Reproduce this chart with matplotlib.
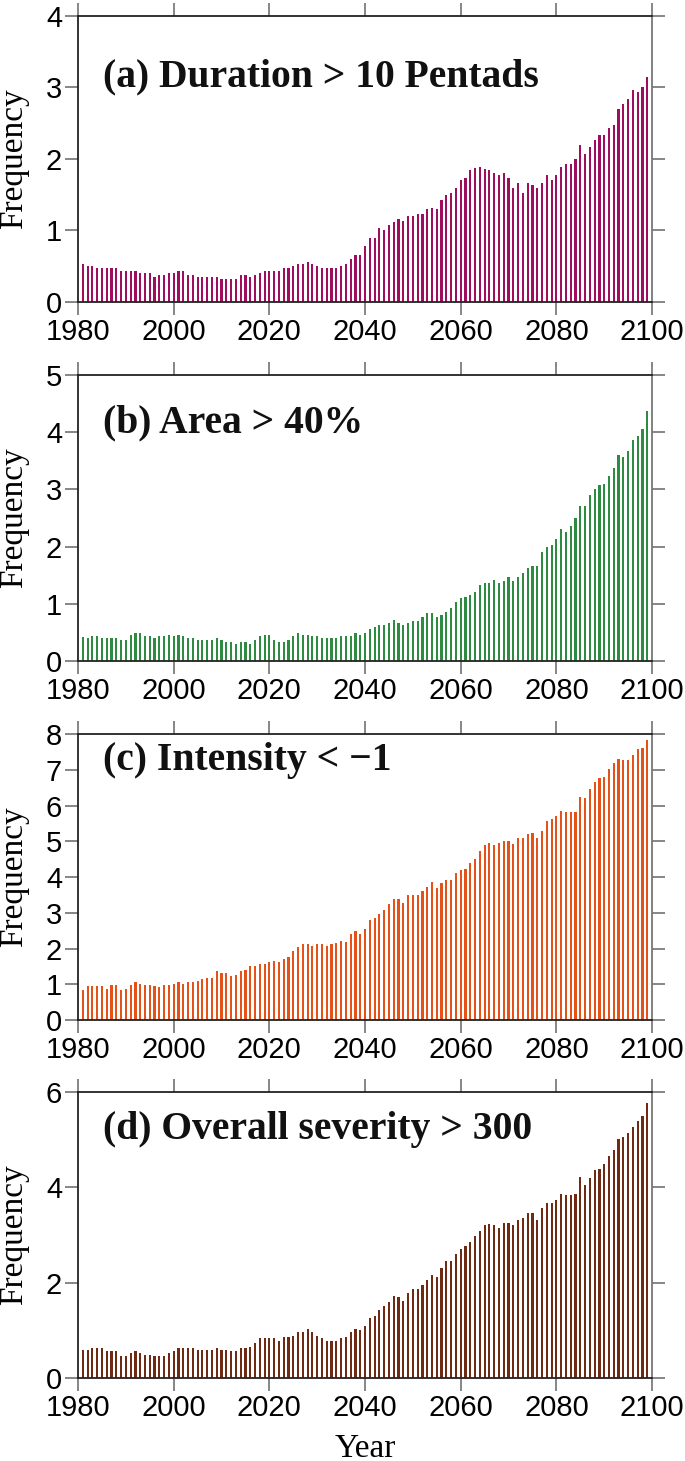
import matplotlib
matplotlib.use("Agg")
import matplotlib.pyplot as plt
import numpy as np

years = np.arange(1981, 2100)

# (a) Duration > 10 Pentads
dur = [0.53,0.50,0.50,0.47,0.47,0.47,0.47,0.47,0.44,0.44,
       0.44,0.44,0.41,0.41,0.41,0.35,0.38,0.38,0.41,0.41,
       0.44,0.44,0.38,0.38,0.35,0.35,0.35,0.35,0.35,0.32,
       0.32,0.32,0.32,0.38,0.38,0.35,0.38,0.41,0.44,0.44,
       0.44,0.44,0.47,0.47,0.50,0.53,0.53,0.56,0.53,0.50,
       0.47,0.47,0.47,0.47,0.50,0.53,0.60,0.66,0.66,0.78,
       0.90,0.90,1.03,1.00,1.07,1.12,1.16,1.13,1.20,1.20,
       1.23,1.23,1.30,1.32,1.30,1.43,1.49,1.52,1.60,1.70,
       1.74,1.84,1.87,1.89,1.86,1.84,1.81,1.77,1.81,1.74,
       1.60,1.67,1.53,1.67,1.64,1.60,1.67,1.77,1.70,1.77,
       1.89,1.93,1.93,2.00,2.20,2.07,2.17,2.27,2.33,2.33,
       2.43,2.47,2.70,2.77,2.84,2.97,2.93,3.00,3.14]

# (b) Area > 40%
area = [0.42,0.40,0.43,0.43,0.40,0.40,0.40,0.40,0.37,0.37,
        0.46,0.48,0.48,0.43,0.43,0.40,0.43,0.43,0.46,0.43,
        0.46,0.43,0.40,0.40,0.37,0.37,0.37,0.37,0.40,0.37,
        0.33,0.33,0.30,0.33,0.33,0.30,0.37,0.43,0.46,0.46,
        0.37,0.33,0.33,0.37,0.43,0.48,0.46,0.46,0.43,0.43,
        0.40,0.40,0.40,0.40,0.43,0.43,0.43,0.48,0.46,0.48,
        0.56,0.60,0.63,0.63,0.66,0.72,0.66,0.63,0.66,0.70,
        0.70,0.76,0.83,0.83,0.76,0.80,0.86,0.93,1.03,1.10,
        1.12,1.16,1.20,1.33,1.36,1.36,1.42,1.36,1.40,1.46,
        1.40,1.46,1.53,1.62,1.66,1.66,1.90,2.00,2.03,2.13,
        2.30,2.26,2.36,2.50,2.70,2.70,2.90,3.00,3.07,3.10,
        3.23,3.37,3.60,3.57,3.67,3.86,3.93,4.06,4.37]

# (c) Intensity < -1
inten = [0.85,0.95,0.95,0.95,0.95,0.88,0.98,0.98,0.85,0.88,
         0.98,1.06,1.01,0.98,0.98,0.95,0.92,0.98,0.98,1.01,
         1.06,1.01,1.06,1.06,1.09,1.15,1.19,1.19,1.36,1.32,
         1.32,1.22,1.25,1.36,1.39,1.50,1.50,1.56,1.56,1.61,
         1.64,1.61,1.71,1.75,1.94,2.05,2.12,2.12,2.08,2.12,
         2.12,2.08,2.12,2.16,2.22,2.18,2.40,2.50,2.40,2.56,
         2.79,2.85,2.98,3.09,3.25,3.38,3.38,3.28,3.49,3.51,
         3.49,3.61,3.72,3.86,3.69,3.82,3.92,3.92,4.12,4.20,
         4.23,4.40,4.50,4.73,4.90,4.96,4.90,4.96,5.00,5.00,
         4.93,5.10,5.10,5.20,5.23,5.10,5.30,5.57,5.63,5.70,
         5.86,5.83,5.83,5.83,6.23,6.20,6.47,6.67,6.77,6.80,
         7.03,7.20,7.30,7.27,7.27,7.40,7.57,7.60,7.83]

# (d) Overall severity > 300
sev = [0.585,0.585,0.62,0.62,0.62,0.565,0.565,0.565,0.46,0.46,
       0.52,0.565,0.52,0.49,0.49,0.46,0.46,0.46,0.52,0.565,
       0.62,0.62,0.62,0.62,0.585,0.585,0.585,0.585,0.62,0.585,
       0.585,0.565,0.565,0.62,0.62,0.655,0.725,0.83,0.83,0.83,
       0.83,0.78,0.85,0.85,0.89,0.955,0.955,1.02,0.955,0.89,
       0.83,0.78,0.78,0.78,0.83,0.85,0.955,1.02,1.00,1.10,
       1.26,1.30,1.42,1.50,1.59,1.71,1.69,1.62,1.79,1.86,
       1.86,1.96,2.06,2.16,2.12,2.30,2.46,2.46,2.60,2.70,
       2.77,2.86,2.97,3.09,3.20,3.23,3.20,3.15,3.25,3.25,
       3.20,3.31,3.36,3.46,3.46,3.32,3.57,3.67,3.67,3.73,
       3.85,3.83,3.83,3.85,4.21,4.05,4.19,4.37,4.39,4.49,
       4.65,4.79,5.02,5.06,5.14,5.26,5.39,5.50,5.76]

titles = ["(a) Duration > 10 Pentads", "(b) Area > 40%",
          "(c) Intensity < \u22121", "(d) Overall severity > 300"]
series = [dur, area, inten, sev]
colors = ["#9E0D5E", "#2E8B42", "#E4521A", "#6E2A12"]
ymaxes = [4, 5, 8, 6]
ysteps = [1, 1, 1, 2]
title_y = [0.755, 0.80, 0.875, 0.835]

fig = plt.figure(figsize=(6.85, 14.61), dpi=100)
bottoms = [0.7933, 0.5476, 0.3018, 0.0568]

for i in range(4):
    ax = fig.add_axes([0.1139, bottoms[i], 0.838, 0.1958])
    ax.bar(years, series[i], width=0.45, color=colors[i], linewidth=0)
    ax.set_xlim(1980, 2100)
    ax.set_ylim(0, ymaxes[i])
    ax.set_xticks(np.arange(1980, 2101, 20))
    ax.set_yticks(np.arange(0, ymaxes[i] + 0.1, ysteps[i]))
    ax.tick_params(direction="out", length=9.5, width=1.1, color="#666666",
                   top=True, right=True, labelsize=21, pad=2)
    for lab in ax.get_xticklabels() + ax.get_yticklabels():
        lab.set_fontfamily("Liberation Sans")
    for s in ["left", "bottom", "top"]:
        ax.spines[s].set_linewidth(1.3)
        ax.spines[s].set_color("#222222")
    ax.spines["right"].set_linewidth(1.3)
    ax.spines["right"].set_color("#777777")
    ax.text(0.043, title_y[i], titles[i], transform=ax.transAxes,
            fontsize=28.5, fontweight="bold", family="Liberation Serif",
            ha="left", va="baseline", color="#111111")
    ax.set_ylabel("Frequency", fontsize=24, family="Liberation Serif")
    ax.yaxis.set_label_coords(-0.085, 0.5)
    if i == 3:
        ax.set_xlabel("Year", fontsize=24, family="Liberation Serif", labelpad=8)

plt.savefig("out.png", dpi=100)
